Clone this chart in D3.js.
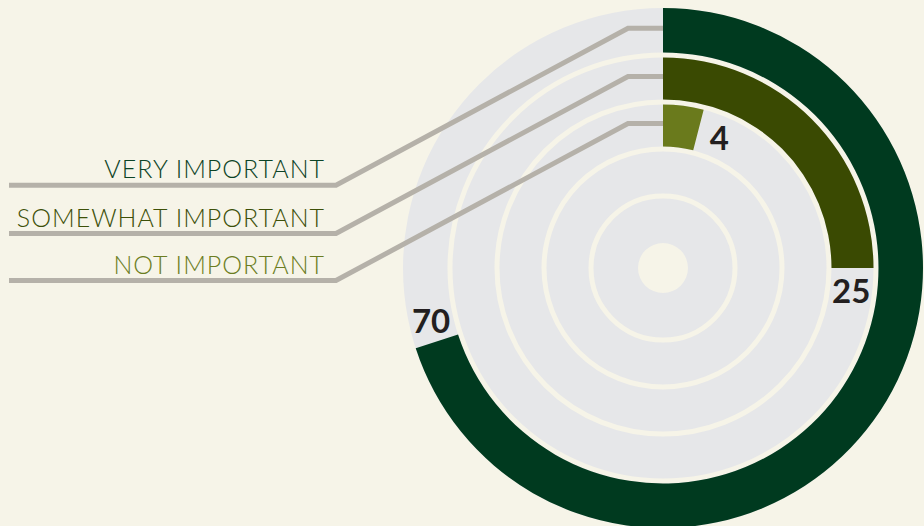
<!DOCTYPE html>
<html>
<head>
<meta charset="utf-8">
<script src="https://cdn.jsdelivr.net/npm/d3@7"></script>
<style>
  html, body { margin: 0; padding: 0; background: #f6f4e8; }
  svg { display: block; }
</style>
</head>
<body>
<script>
// Share of respondents per importance level (percent)
const categories = ["VERY IMPORTANT", "SOMEWHAT IMPORTANT", "NOT IMPORTANT"];
const values = [70, 25, 4];

const W = 924, H = 526;
const cx = 663, cy = 268;
const palette = ["#003a1f", "#3a4a02", "#6a7a1c"];
const textPalette = ["#0c4326", "#3d5008", "#6b7d22"];
const bg = "#f6f4e8", track = "#e6e7e9", leader = "#b5b1a9";

const svg = d3.select("body").append("svg").attr("width", W).attr("height", H);
svg.append("rect").attr("width", W).attr("height", H).attr("fill", bg);

const g = svg.append("g").attr("transform", `translate(${cx},${cy})`);

// five concentric bands between the hub and the rim
const ring = d3.scaleLinear().domain([0, 5]).range([25, 260]);
const angle = d3.scaleLinear().domain([0, 100]).range([0, 2 * Math.PI]);

// grey track
g.append("path")
  .attr("d", d3.arc()({ innerRadius: ring(0), outerRadius: ring(5), startAngle: 0, endAngle: 2 * Math.PI }))
  .attr("fill", track);

// cream separators between bands
g.selectAll("circle.sep").data([1, 2, 3, 4]).join("circle")
  .attr("class", "sep")
  .attr("r", d => ring(d))
  .attr("fill", "none")
  .attr("stroke", bg)
  .attr("stroke-width", 5);

const bandOf = i => {
  const k = 4 - i;
  const inner = ring(k) + 2.5;
  const outer = i === 0 ? ring(k + 1) : ring(k + 1) - 2.5;
  return { inner, outer, mid: (inner + outer) / 2 };
};

// leader lines from the legend labels to the start of each bar
const rise = 157, elbowX = 336, kneeX = 628, startX = 9;
categories.forEach((c, i) => {
  const b = bandOf(i);
  const y1 = cy - b.mid - 2;
  const y0 = y1 + rise;
  svg.append("path")
    .attr("d", d3.line()([[startX, y0], [elbowX, y0], [kneeX, y1], [cx, y1]]))
    .attr("fill", "none")
    .attr("stroke", leader)
    .attr("stroke-width", 5)
    .attr("stroke-linejoin", "miter");
  svg.append("text")
    .attr("x", 325)
    .attr("y", y0 - 7)
    .attr("text-anchor", "end")
    .attr("fill", textPalette[i])
    .style("font-family", "Lato, 'Open Sans', sans-serif")
    .style("font-size", "25px")
    .style("font-weight", 300)
    .style("letter-spacing", "1px")
    .text(c);
});

// bars
const arc = d3.arc();
values.forEach((v, i) => {
  const b = bandOf(i);
  g.append("path")
    .attr("d", arc({ innerRadius: b.inner, outerRadius: b.outer, startAngle: 0, endAngle: angle(v) }))
    .attr("fill", palette[i]);
});

// value labels just past the end of each bar
values.forEach((v, i) => {
  const b = bandOf(i);
  const a = angle(v) + 22 / b.mid;
  g.append("text")
    .attr("x", b.mid * Math.sin(a))
    .attr("y", -b.mid * Math.cos(a))
    .attr("text-anchor", "middle")
    .attr("dominant-baseline", "central")
    .attr("fill", "#231f20")
    .style("font-family", "Lato, 'Liberation Sans', sans-serif")
    .style("font-size", "33px")
    .style("font-weight", 700)
    .text(v);
});
</script>
</body>
</html>
